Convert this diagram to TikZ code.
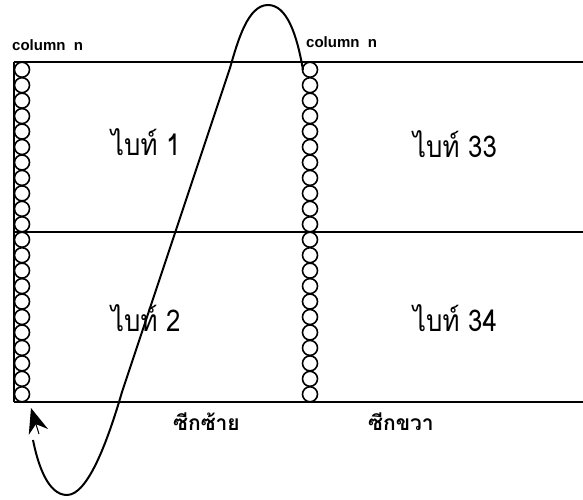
\documentclass[tikz,border=0pt]{standalone}
\usepackage{fontspec}
\setmainfont{Liberation Sans}
\newfontfamily\thaifont[Script=Thai,FakeStretch=0.86]{Loma}
\newfontfamily\thaibold[Script=Thai]{Loma}
\usetikzlibrary{arrows.meta}
\begin{document}
\begin{tikzpicture}[x=1pt,y=-1pt,
  rule/.style={line width=1.5pt},
  bead/.style={draw, line width=1.6pt, fill=white, circle, minimum size=15pt, inner sep=0pt},
  collabel/.style={anchor=base west, inner sep=0pt, font=\bfseries\fontsize{15}{17}\selectfont},
  bytelabel/.style={anchor=base west, inner sep=0pt, font=\thaifont\fontsize{30}{34}\selectfont},
  halflabel/.style={anchor=base west, inner sep=0pt, font=\thaibold\bfseries\fontsize{21}{24}\selectfont},
  trace/.style={line width=2pt}]
\useasboundingbox (0,0) rectangle (583,500);
% frame coordinates
\coordinate (tl) at (14,62);  \coordinate (tr) at (583,62);
\coordinate (ml) at (14,232); \coordinate (mr) at (583,232);
\coordinate (bl) at (14,402); \coordinate (br) at (583,402);
\draw[rule] (tl) -- (tr);
\draw[rule] (ml) -- (mr);
\draw[rule] (bl) -- (br);
\draw[line width=2.2pt] (tl) -- (bl);
% beads
\foreach \i in {0,...,21} {
  \node[bead] (L\i) at (22,{62+15.4545*(\i+0.5)}) {};
  \node[bead] (R\i) at (310,{62+15.4545*(\i+0.5)}) {};
}
% labels
\node[collabel] (c1) at (12,51) {column\ \ n};
\node[collabel] (c2) at (306,48) {column\ \ n};
\node[bytelabel] (b1) at (111,155) {ไบท์ 1};
\node[bytelabel] (b33) at (413,157) {ไบท์ 33};
\node[bytelabel] (b2) at (111,331) {ไบท์ 2};
\node[bytelabel] (b34) at (413,331) {ไบท์ 34};
\node[halflabel] (hl) at (173,430) {ซีกซ้าย};
\node[halflabel] (hr) at (368,430) {ซีกขวา};
% trace curve
\coordinate (cstart) at (303,70);
\coordinate (cend) at (33,440);
\coordinate (atail) at (39,434);
\coordinate (atip) at (31,408);
\draw[trace] (cstart) .. controls (297,35) and (287,5) .. (268,5)
  .. controls (248,5) and (238,40) .. (230,68) -- (122,392)
  .. controls (108,440) and (88,495) .. (67,495)
  .. controls (48,495) and (38,465) .. (cend);
\draw[line width=1pt, -{Stealth[length=25pt,width=20pt]}] (atail) -- (atip);
\end{tikzpicture}
\end{document}
